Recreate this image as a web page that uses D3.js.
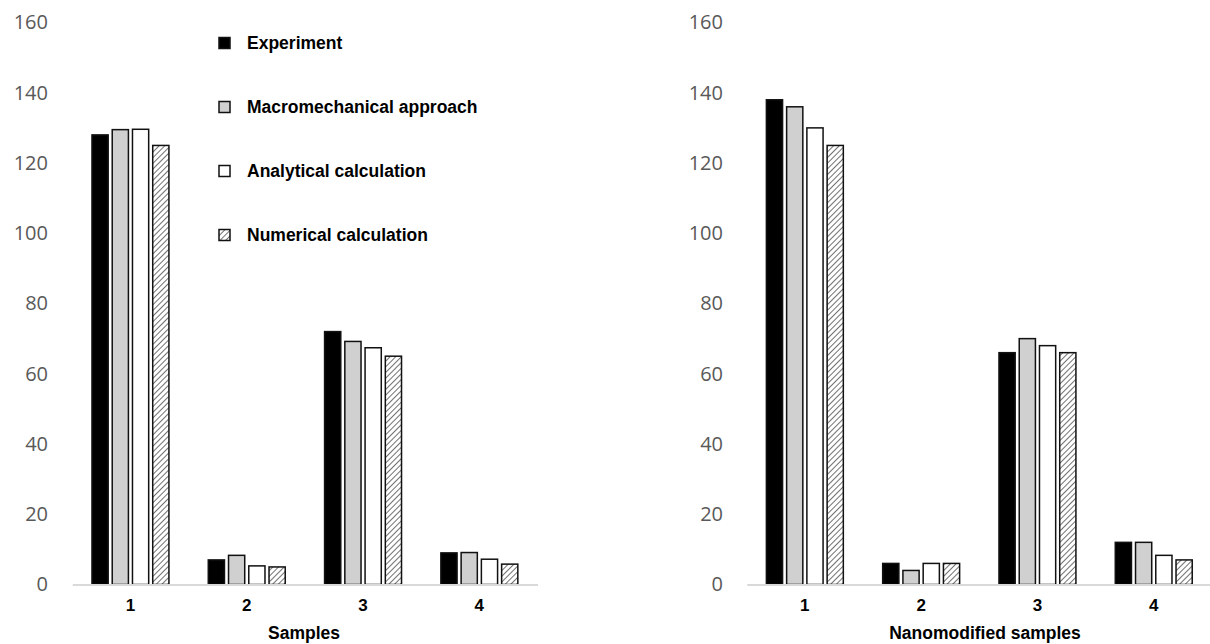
<!DOCTYPE html>
<html>
<head>
<meta charset="utf-8">
<script src="https://cdn.jsdelivr.net/npm/d3@7"></script>
<style>
  body { margin: 0; background: #fff; }
  .ylab text { font-family: "Open Sans", "Noto Sans", sans-serif; font-size: 20px; fill: #595959; }
  .xlab text { font-family: "Liberation Sans", Arial, sans-serif; font-size: 17px; font-weight: bold; fill: #000; }
  .title { font-family: "Liberation Sans", Arial, sans-serif; font-size: 17.5px; font-weight: bold; fill: #000; }
  .legend text { font-family: "Liberation Sans", Arial, sans-serif; font-size: 17.5px; font-weight: bold; fill: #000; }
</style>
</head>
<body>
<div id="chart"></div>
<script>
// data
const samples = ["1", "2", "3", "4"];
const seriesNames = ["Experiment", "Macromechanical approach", "Analytical calculation", "Numerical calculation"];
const yTicks = [0, 20, 40, 60, 80, 100, 120, 140, 160];

// left: Samples
const experimentA = [128, 7, 72, 9];
const macroA = [129.5, 8.3, 69.2, 9.1];
const analyticA = [129.6, 5.3, 67.4, 7.2];
const numericA = [125, 5, 65, 5.8];

// right: Nanomodified samples
const experimentB = [138, 6, 66, 12];
const macroB = [136, 4, 70, 12];
const analyticB = [130, 6, 68, 8.3];
const numericB = [125, 6, 66, 7];

const width = 1210, height = 644;

const svg = d3.select("#chart").append("svg")
    .attr("width", width)
    .attr("height", height);

// hatch pattern for numerical calculation
const defs = svg.append("defs");
defs.append("pattern")
    .attr("id", "hatch")
    .attr("patternUnits", "userSpaceOnUse")
    .attr("width", 4)
    .attr("height", 4)
    .attr("patternTransform", "rotate(45)")
  .call(p => {
      p.append("rect").attr("width", 4).attr("height", 4).attr("fill", "#fff");
      p.append("line").attr("x1", 0).attr("y1", 0).attr("x2", 0).attr("y2", 4)
          .attr("stroke", "#333").attr("stroke-width", 1.4);
  });

const fills = ["#000", "#d0d0d0", "#fff", "url(#hatch)"];

const y = d3.scaleLinear().domain([0, 160]).range([584.5, 22.5]);

function drawChart(cfg) {
    const series = cfg.series;
    const rows = samples.map((s, i) => ({ sample: s, values: series.map((arr, k) => ({ k: k, v: arr[i] })) }));

    const x0 = d3.scaleBand().domain(samples).range([cfg.x0, cfg.x0 + 465.2]);
    const bw = x0.bandwidth();
    const x1 = d3.scaleBand().domain(d3.range(series.length))
        .range([(bw - 81) / 2, (bw + 81) / 2])
        .paddingInner(0.2).paddingOuter(0.1);

    const g = svg.append("g");

    // y labels (no axis line)
    const ya = g.append("g")
        .attr("class", "ylab")
        .attr("transform", `translate(${cfg.labelX},0)`)
        .call(d3.axisLeft(y).tickValues(yTicks).tickSize(0).tickPadding(0));
    ya.select(".domain").remove();

    // bars
    g.selectAll("g.grp")
        .data(rows)
        .join("g")
        .attr("class", "grp")
        .attr("transform", d => `translate(${x0(d.sample)},0)`)
      .selectAll("rect")
        .data(d => d.values)
        .join("rect")
        .attr("x", d => x1(d.k))
        .attr("y", d => y(d.v))
        .attr("width", x1.bandwidth())
        .attr("height", d => y(0) - y(d.v))
        .attr("fill", d => fills[d.k])
        .attr("stroke", "#111")
        .attr("stroke-width", 1.5);

    // x axis
    const xa = g.append("g")
        .attr("class", "xlab")
        .attr("transform", `translate(0,${y(0)})`)
        .call(d3.axisBottom(x0).tickSize(0).tickSizeOuter(0).tickPadding(14));
    xa.select(".domain").attr("stroke", "#d9d9d9").attr("stroke-width", 2);

    g.append("text")
        .attr("class", "title")
        .attr("x", cfg.titleX)
        .attr("y", 639)
        .attr("text-anchor", "middle")
        .text(cfg.title);
}

drawChart({ series: [experimentA, macroA, analyticA, numericA], x0: 72.3, labelX: 48, title: "Samples", titleX: 304 });
drawChart({ series: [experimentB, macroB, analyticB, numericB], x0: 746.7, labelX: 723, title: "Nanomodified samples", titleX: 985 });

// legend on the left chart
const legend = svg.append("g")
    .attr("class", "legend")
    .attr("transform", "translate(219,43)");

const item = legend.selectAll("g")
    .data(seriesNames)
    .join("g")
    .attr("transform", (d, i) => `translate(0,${i * 64})`);

item.append("rect")
    .attr("x", 0)
    .attr("y", -5.5)
    .attr("width", 11)
    .attr("height", 11)
    .attr("fill", (d, i) => fills[i])
    .attr("stroke", "#111")
    .attr("stroke-width", 1.5);

item.append("text")
    .attr("x", 28)
    .attr("y", 0)
    .attr("dy", "0.35em")
    .text(d => d);
</script>
</body>
</html>
